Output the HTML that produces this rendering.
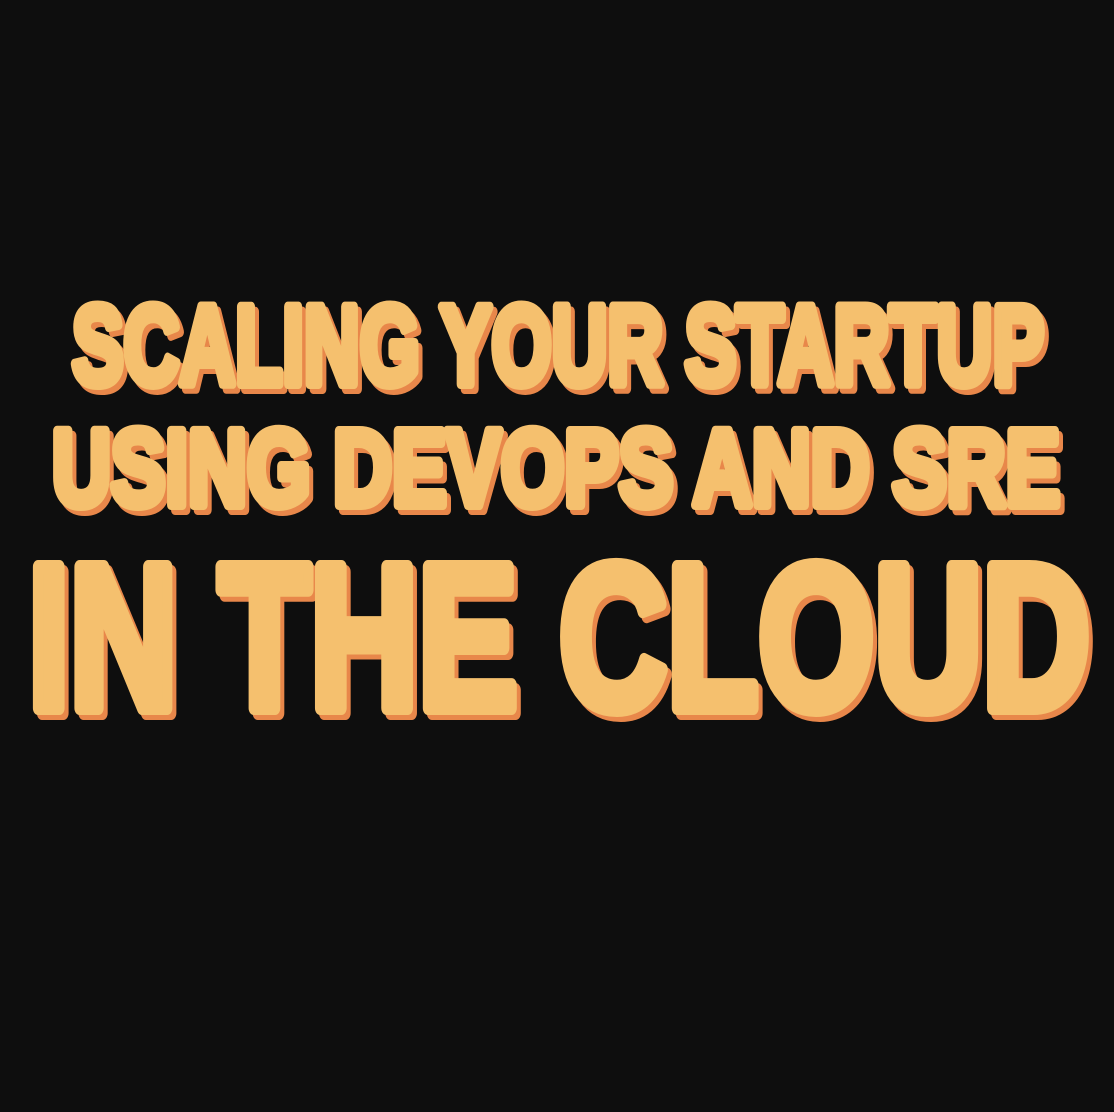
<!DOCTYPE html>
<html><head><meta charset="utf-8"><style>
html,body{margin:0;padding:0;background:#0e0e0e;}
svg{display:block}
</style></head><body>
<svg width="1114" height="1112" viewBox="0 0 1114 1112" xmlns="http://www.w3.org/2000/svg">
<rect width="1114" height="1112" fill="#0e0e0e"/>
<g font-family="Liberation Sans, sans-serif" font-weight="bold" stroke-linejoin="round" stroke-linecap="round">
  <g fill="#e8874a" stroke="#e8874a" transform="translate(4,5)">
    <text x="72" y="384" font-size="112" stroke-width="10" textLength="972" lengthAdjust="spacingAndGlyphs">SCALING YOUR STARTUP</text>
    <text x="52" y="505" font-size="108" stroke-width="10" textLength="1008" lengthAdjust="spacingAndGlyphs">USING DEVOPS AND SRE</text>
    <text x="28" y="708" font-size="205" stroke-width="14" textLength="1062" lengthAdjust="spacingAndGlyphs">IN THE CLOUD</text>
  </g>
  <g fill="#f5c06e" stroke="#f5c06e">
    <text x="72" y="384" font-size="112" stroke-width="10" textLength="972" lengthAdjust="spacingAndGlyphs">SCALING YOUR STARTUP</text>
    <text x="52" y="505" font-size="108" stroke-width="10" textLength="1008" lengthAdjust="spacingAndGlyphs">USING DEVOPS AND SRE</text>
    <text x="28" y="708" font-size="205" stroke-width="14" textLength="1062" lengthAdjust="spacingAndGlyphs">IN THE CLOUD</text>
  </g>
</g>
</svg>
</body></html>
